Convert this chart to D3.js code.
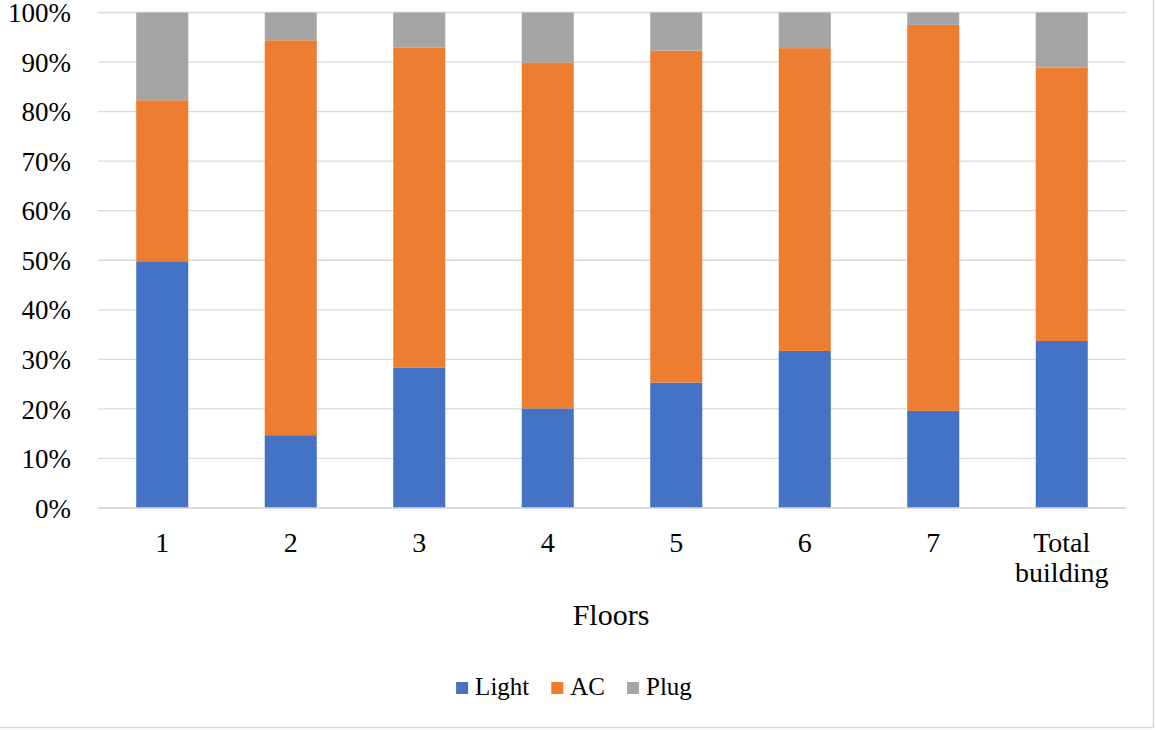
<!DOCTYPE html>
<html>
<head>
<meta charset="utf-8">
<script src="https://cdn.jsdelivr.net/npm/d3@7"></script>
<style>
  html, body { margin: 0; padding: 0; background: #fff; }
  svg { display: block; }
</style>
</head>
<body>
<svg id="chart" width="1156" height="730"></svg>
<script>
// Energy use share by floor (percent of each floor's total)
const categories = ["1", "2", "3", "4", "5", "6", "7", "Total building"];
const light = [49.8, 14.7, 28.3, 20.1, 25.3, 31.7, 19.6, 33.7];
const ac    = [32.5, 79.7, 64.6, 69.8, 67.0, 61.1, 77.9, 55.2];
const plug  = [17.7,  5.6,  7.1, 10.1,  7.7,  7.2,  2.5, 11.1];
const seriesNames = ["Light", "AC", "Plug"];
const seriesColors = ["#4472C4", "#ED7D31", "#A5A5A5"];
const yTicks = [0, 10, 20, 30, 40, 50, 60, 70, 80, 90, 100];

const FONT = "'Liberation Serif', Tinos, 'Times New Roman', 'DejaVu Serif', serif";
const plot = { left: 98, right: 1126, top: 12.5, bottom: 508 };

const svg = d3.select("#chart");

// outer frame
svg.append("rect")
  .attr("x", -2).attr("y", -2)
  .attr("width", 1155.5).attr("height", 729.5)
  .attr("fill", "none").attr("stroke", "#d9d9d9").attr("stroke-width", 1.5);

const rows = categories.map((c, i) => ({ cat: c, Light: light[i], AC: ac[i], Plug: plug[i] }));
const stacked = d3.stack().keys(seriesNames)(rows);

const x = d3.scaleBand()
  .domain(categories)
  .range([plot.left, plot.right])
  .paddingInner(0.595)
  .paddingOuter(0.2975);

const y = d3.scaleLinear().domain([0, 100]).range([plot.bottom, plot.top]);

// horizontal gridlines
svg.append("g")
  .selectAll("line")
  .data(yTicks)
  .join("line")
  .attr("x1", plot.left).attr("x2", plot.right)
  .attr("y1", d => y(d)).attr("y2", d => y(d))
  .attr("stroke", "#d9d9d9").attr("stroke-width", 1.3);

// y axis labels
const yAxis = d3.axisLeft(y).tickValues(yTicks).tickFormat(d => d + "%").tickSize(0).tickPadding(27);
const gy = svg.append("g").attr("transform", `translate(${plot.left},0)`).call(yAxis)
  .attr("font-family", FONT).attr("font-size", 27);
gy.select(".domain").remove();
gy.selectAll("text").attr("fill", "#000").attr("dy", "0.34em");

// stacked bars
svg.append("g")
  .selectAll("g")
  .data(stacked)
  .join("g")
  .attr("fill", (d, i) => seriesColors[i])
  .selectAll("rect")
  .data(d => d)
  .join("rect")
  .attr("x", d => x(d.data.cat))
  .attr("width", x.bandwidth())
  .attr("y", d => y(d[1]))
  .attr("height", d => y(d[0]) - y(d[1]));

// x axis line
svg.append("line")
  .attr("x1", plot.left).attr("x2", plot.right)
  .attr("y1", y(0)).attr("y2", y(0))
  .attr("stroke", "#d9d9d9").attr("stroke-width", 1.3);

// x category labels (wrapped)
const xl = svg.append("g").attr("font-family", FONT).attr("font-size", 28);
categories.forEach(c => {
  const words = c === "Total building" ? ["Total", "building"] : [c];
  const t = xl.append("text").attr("text-anchor", "middle").attr("fill", "#000");
  words.forEach((w, j) => {
    t.append("tspan")
      .attr("x", x(c) + x.bandwidth() / 2)
      .attr("y", 552 + j * 30)
      .text(w);
  });
});

// axis title
svg.append("text")
  .attr("x", 611).attr("y", 625)
  .attr("text-anchor", "middle")
  .attr("font-family", FONT).attr("font-size", 30)
  .attr("fill", "#000")
  .text("Floors");

// legend
const legend = svg.append("g").attr("font-family", FONT).attr("font-size", 25);
const sq = 12, gapSq = 7, gapItem = 22;
let cx = 0;
seriesNames.forEach((name, i) => {
  const g = legend.append("g").attr("transform", `translate(${cx},0)`);
  g.append("rect").attr("x", 0).attr("y", -13).attr("width", sq).attr("height", sq).attr("fill", seriesColors[i]);
  const t = g.append("text").attr("x", sq + gapSq).attr("y", 0).attr("fill", "#000").text(name);
  cx += sq + gapSq + t.node().getComputedTextLength() + gapItem;
});
const totalW = cx - gapItem;
legend.attr("transform", `translate(${574 - totalW / 2},695)`);
</script>
</body>
</html>
